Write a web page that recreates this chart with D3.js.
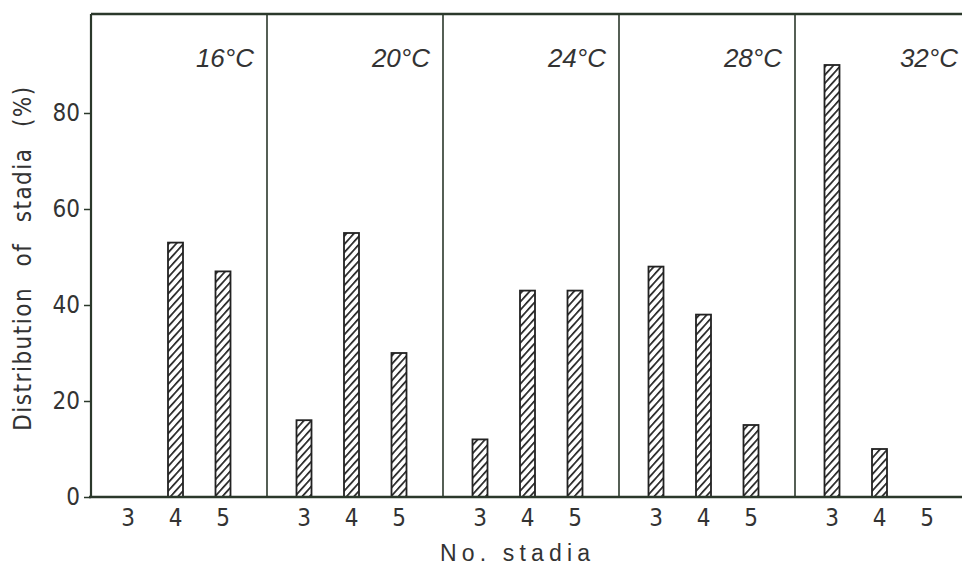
<html><head>
<script src="https://d3js.org/d3.v7.min.js"></script>
<style>
  body { margin: 0; background: #fff; }
  text { fill: #333; }
</style>
</head>
<body>
<svg id="chart" width="962" height="565"></svg>
<script>
  // values (% of larvae with 3, 4, 5 stadia)
  const temps = ["16°C", "20°C", "24°C", "28°C", "32°C"];
  const stadia = [3, 4, 5];
  const dist16 = [0, 53, 47];
  const dist20 = [16, 55, 30];
  const dist24 = [12, 43, 43];
  const dist28 = [48, 38, 15];
  const dist32 = [90, 10, 0];
  const yTicks = [0, 20, 40, 60, 80];

  const series = [dist16, dist20, dist24, dist28, dist32];

  const svg = d3.select("svg#chart");
  const lineCol = "#2b382b";
  const plotTop = 14, base = 497, left = 91;
  const narrow = "'Liberation Sans Narrow', 'DejaVu Sans Condensed', sans-serif";

  // hatch fill
  const pat = svg.append("defs").append("pattern")
      .attr("id", "hatch")
      .attr("patternUnits", "userSpaceOnUse")
      .attr("width", 5.5).attr("height", 5.5)
      .attr("patternTransform", "rotate(42)");
  pat.append("rect").attr("width", 5.5).attr("height", 5.5).attr("fill", "#fff");
  pat.append("line").attr("x1", 0).attr("y1", 0).attr("x2", 0).attr("y2", 5.5)
      .attr("stroke", "#222").attr("stroke-width", 3.4);

  // scales
  const yScale = d3.scaleLinear().domain([0, 80]).range([base, 113]);
  const panelScale = d3.scaleBand().domain(temps).range([left, left + 5 * 176]);
  const stadScale = d3.scalePoint().domain(stadia).range([37, 132]);
  const barW = 15;

  // panels
  temps.forEach((t, i) => {
    const p = svg.append("g").attr("transform", "translate(" + panelScale(t) + ",0)");
    series[i].forEach((v, j) => {
      if (v > 0) {
        p.append("rect")
          .attr("x", stadScale(stadia[j]) - barW / 2)
          .attr("y", yScale(v))
          .attr("width", barW)
          .attr("height", base - yScale(v))
          .attr("fill", "url(#hatch)")
          .attr("stroke", "#222")
          .attr("stroke-width", 1.8);
      }
    });
    // x tick labels
    p.selectAll("text.xt").data(stadia).join("text")
      .attr("class", "xt")
      .attr("x", d => stadScale(d))
      .attr("y", 526)
      .attr("text-anchor", "middle")
      .style("font-family", narrow)
      .style("font-size", "24px")
      .text(d => d);
    // temperature label
    p.append("text")
      .attr("x", panelScale.bandwidth() - 13)
      .attr("y", 67)
      .attr("text-anchor", "end")
      .style("font-family", "'Liberation Sans', Arial, sans-serif")
      .style("font-style", "italic")
      .style("font-size", "26px")
      .text(t);
    // divider on the right of each panel
    if (i < temps.length - 1) {
      p.append("line")
        .attr("x1", panelScale.bandwidth()).attr("x2", panelScale.bandwidth())
        .attr("y1", plotTop).attr("y2", base)
        .attr("stroke", lineCol).attr("stroke-width", 1.6);
    }
  });

  // y axis
  const leftAxis = d3.axisLeft(yScale).tickValues(yTicks).tickSize(7).tickPadding(4);
  const ya = svg.append("g")
      .attr("transform", "translate(" + left + ",0)")
      .call(leftAxis);
  ya.select(".domain").remove();
  ya.selectAll("line").attr("stroke", lineCol).attr("stroke-width", 1.5);
  ya.selectAll("text")
    .style("font-family", narrow)
    .style("font-size", "24px")
    .attr("fill", "#333");

  // frame: left, top, baseline
  svg.append("line").attr("x1", left).attr("x2", left).attr("y1", plotTop).attr("y2", base)
    .attr("stroke", lineCol).attr("stroke-width", 2.2);
  svg.append("line").attr("x1", left).attr("x2", 962).attr("y1", plotTop).attr("y2", plotTop)
    .attr("stroke", lineCol).attr("stroke-width", 2.4);
  svg.append("line").attr("x1", left - 2).attr("x2", 962).attr("y1", base).attr("y2", base)
    .attr("stroke", lineCol).attr("stroke-width", 2.4);

  // axis titles
  svg.append("text")
    .attr("transform", "translate(31," + 258 + ") rotate(-90)")
    .attr("text-anchor", "middle")
    .style("font-family", narrow)
    .style("font-size", "24px")
    .style("word-spacing", "12px")
    .style("letter-spacing", "1.5px")
    .text("Distribution of stadia (%)");

  svg.append("text")
    .attr("x", 515).attr("y", 561)
    .attr("text-anchor", "middle")
    .attr("textLength", 150)
    .attr("lengthAdjust", "spacing")
    .style("font-family", "'Liberation Sans', Arial, sans-serif")
    .style("font-size", "23px")
    .text("No. stadia");
</script>
</body>
</html>
